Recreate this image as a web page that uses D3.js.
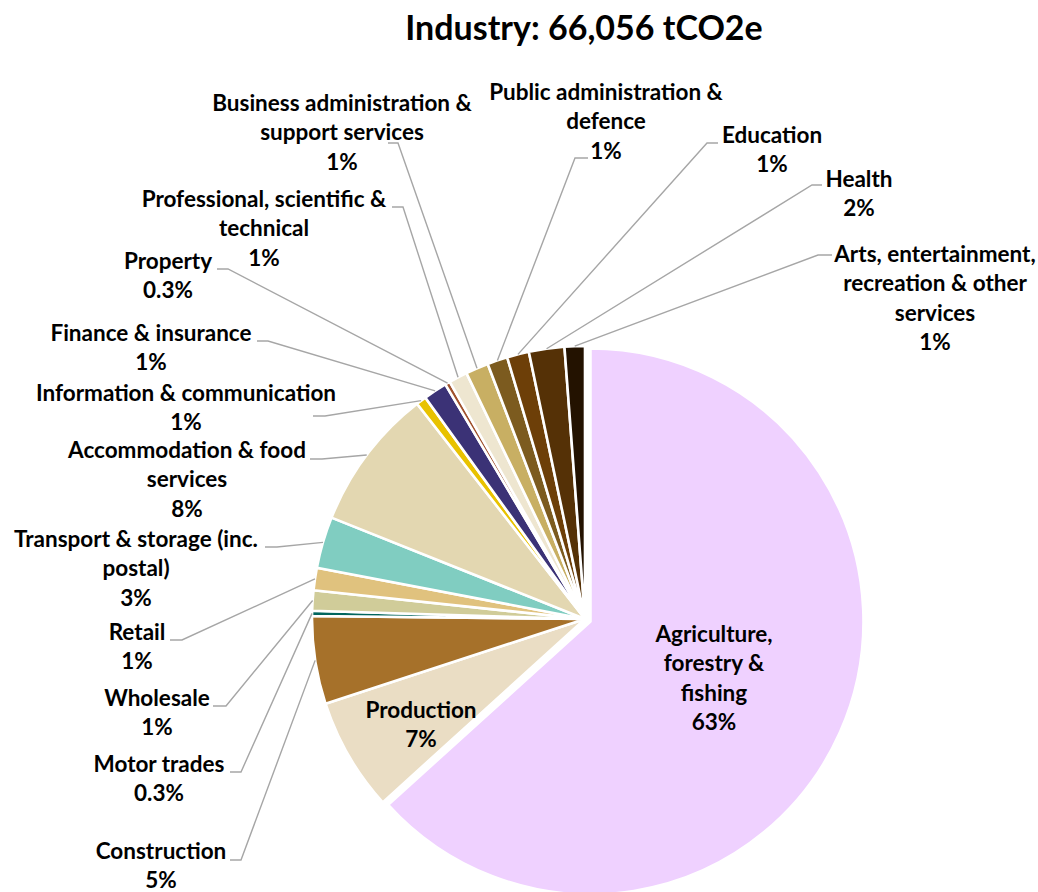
<!DOCTYPE html>
<html><head><meta charset="utf-8">
<script src="https://cdn.jsdelivr.net/npm/d3@7"></script>
<style>
body{margin:0;background:#fff}
svg{display:block}
text{font-family:Lato,"Open Sans",sans-serif;font-weight:700;fill:#000}
</style>
</head><body>
<svg id="chart" width="1038" height="892"></svg>
<script>
// ---------- data ----------
const chartTitle = "Industry: 66,056 tCO2e";
const categories = [
  "Agriculture, forestry & fishing",
  "Production",
  "Construction",
  "Motor trades",
  "Wholesale",
  "Retail",
  "Transport & storage (inc. postal)",
  "Accommodation & food services",
  "Information & communication",
  "Finance & insurance",
  "Property",
  "Professional, scientific & technical",
  "Business administration & support services",
  "Public administration & defence",
  "Education",
  "Health",
  "Arts, entertainment, recreation & other services"
];
// share of total industry emissions, %
const shares = [63.3, 6.7, 5.2, 0.3, 1.2, 1.33, 3.05, 8.4, 0.6, 1.4, 0.3, 1.1, 1.35, 1.2, 1.3, 2.1, 1.2];
const colors = ["#EFD1FF","#EADDC4","#A6712A","#01665E","#D0CC99","#E0C27E","#80CDC1","#E3D7B1",
  "#E8C200","#3B3276","#A0522D","#EEE6D0","#C8AF63","#7C5B1F","#6D3F08","#553106","#231200"];

// ---------- label layout (position of each label block, words per line, leader start/elbow) ----------
const labelLayout = [
  {x:714, y:642, wrap:[1,2,1], leader:null},
  {x:421, y:718, wrap:[1], leader:null},
  {x:161, y:859, wrap:[1], leader:[[230,860],[241,860]]},
  {x:159, y:772, wrap:[2], leader:[[230,772],[241,772]]},
  {x:157, y:706, wrap:[1], leader:[[213,706],[226,706]]},
  {x:137, y:640, wrap:[1], leader:[[170,640],[182,640]]},
  {x:136, y:547, wrap:[4,1], leader:[[265,547],[277,547]]},
  {x:187, y:458, wrap:[3,1], leader:[[310,459],[322,459]]},
  {x:186, y:401, wrap:[3], leader:[[313,416],[325,416]]},
  {x:151, y:341, wrap:[3], leader:[[257,341],[268,341]]},
  {x:168, y:269, wrap:[1], leader:[[217,269],[228,269]]},
  {x:264, y:207, wrap:[3,1], leader:[[392,207],[403,207]]},
  {x:342, y:111, wrap:[3,2], leader:[[388,143],[398,143]]},
  {x:606, y:100, wrap:[3,1], leader:[[588,158],[575,158]]},
  {x:772, y:143, wrap:[1], leader:[[718,143],[707,143]]},
  {x:859, y:187, wrap:[1], leader:[[822,185],[812,185]]},
  {x:935, y:262, wrap:[2,3,1], leader:[[832,255],[818,255]]}
];

// ---------- drawing ----------
const svg = d3.select("#chart");
const cx = 585, cy = 619, R = 273, explode = 6, lineH = 29.3;

svg.append("text")
  .attr("x", 584).attr("y", 40)
  .attr("text-anchor", "middle")
  .style("font-size", "34px")
  .text(chartTitle);

const total = d3.sum(shares);
const rows = categories.map((c, i) => ({name: c, value: shares[i], color: colors[i], layout: labelLayout[i]}));

const pie = d3.pie().sort(null).value(d => d.value).startAngle(0).endAngle(2 * Math.PI);
const arcs = pie(rows);
const arc = d3.arc().innerRadius(0).outerRadius(R);

const g = svg.append("g").attr("transform", `translate(${cx},${cy})`);

g.selectAll("path.slice")
  .data(arcs)
  .join("path")
  .attr("class", "slice")
  .attr("d", arc)
  .attr("fill", d => d.data.color)
  .attr("stroke", "#fff")
  .attr("stroke-width", 2.6)
  .attr("stroke-linejoin", "round")
  .attr("transform", (d, i) => {
    if (i !== 0) return null;
    const m = (d.startAngle + d.endAngle) / 2;
    return `translate(${explode * Math.sin(m)},${-explode * Math.cos(m)})`;
  });

// leader lines
const fmtPct = v => {
  const p = v / total * 100;
  return (p < 0.5 ? p.toFixed(1) : Math.round(p)) + "%";
};

svg.append("g").selectAll("path.leader")
  .data(arcs.filter(d => d.data.layout.leader))
  .join("path")
  .attr("class", "leader")
  .attr("fill", "none")
  .attr("stroke", "#A6A6A6")
  .attr("stroke-width", 1.4)
  .attr("d", d => {
    const m = (d.startAngle + d.endAngle) / 2;
    const px = cx + R * Math.sin(m), py = cy - R * Math.cos(m);
    const [s, e] = d.data.layout.leader;
    return d3.line()([s, e, [px, py]]);
  });

// labels
const labels = svg.append("g").selectAll("text.lbl")
  .data(arcs)
  .join("text")
  .attr("class", "lbl")
  .attr("text-anchor", "middle")
  .style("font-size", "22.5px");

labels.each(function(d) {
  const words = d.data.name.split(" ");
  const lines = [];
  let k = 0;
  d.data.layout.wrap.forEach(n => { lines.push(words.slice(k, k + n).join(" ")); k += n; });
  lines.push(fmtPct(d.data.value));
  const t = d3.select(this);
  lines.forEach((ln, j) => {
    t.append("tspan")
      .attr("x", d.data.layout.x)
      .attr("y", d.data.layout.y + j * lineH)
      .text(ln);
  });
});
</script>
</body></html>
